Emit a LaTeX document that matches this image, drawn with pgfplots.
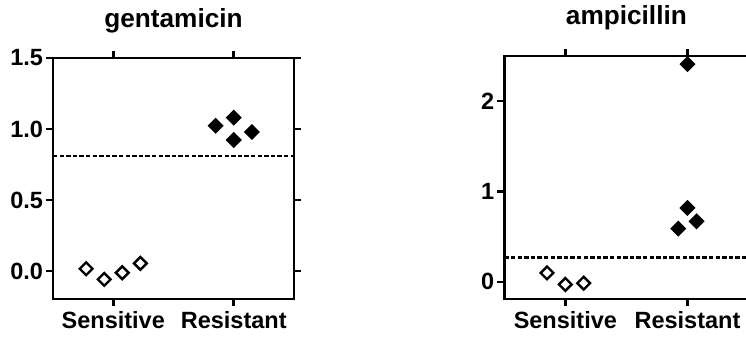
\documentclass[border=0pt]{standalone}
\usepackage{pgfplots}
\pgfplotsset{compat=1.18}
\usepackage{fontspec}
\setmainfont{Liberation Sans}

\begin{document}
\begin{tikzpicture}
\pgfplotsset{
  myaxis/.style={
   scale only axis,
   axis line style={line width=1.3pt},
   tick style={line width=1.3pt, black},
   major tick length=3.5pt,
   tick align=outside,
   xtick pos=both, ytick pos=both,
   xticklabel pos=bottom, yticklabel pos=left,
   xmin=0.5, xmax=2.5,
   xtick={1,2}, xticklabels={Sensitive,Resistant},
   ticklabel style={font=\bfseries\fontsize{11.75}{12}\selectfont},
   yticklabel style={xshift=2pt},
   xticklabel style={yshift=1pt},
   title style={font=\bfseries\fontsize{13.1}{14}\selectfont, at={(0.5,1)}, anchor=base, yshift=9.5pt},
  },
  openm/.style={only marks, mark=square, mark size=2.25pt, mark options={rotate=45, line width=1.2pt, fill=white, draw=black}},
  fillm/.style={only marks, mark=square*, mark size=2.45pt, mark options={rotate=45, line width=0.8pt, fill=black, draw=black}},
  cut/.style={black, line width=1.4pt, dash pattern=on 2.2pt off 1.1pt},
}
\begin{axis}[myaxis, at={(26.5pt,19pt)}, anchor=south west,
  width=120.5pt, height=120.5pt,
  ymin=-0.197, ymax=1.5, ytick={0,0.5,1,1.5}, yticklabels={0.0,0.5,1.0,1.5},
  title={gentamicin}]
\addplot[cut] coordinates {(0.5,0.81) (2.5,0.81)};
\addplot[openm] coordinates {(0.775,0.016) (0.925,-0.059) (1.075,-0.012) (1.225,0.054)};
\addplot[fillm] coordinates {(1.85,1.023) (2,1.08) (2,0.923) (2.15,0.979)};
\end{axis}
\begin{axis}[myaxis, at={(252.15pt,19pt)}, anchor=south west,
  width=122.1pt, height=121.5pt,
  ymin=-0.19, ymax=2.5, ytick={0,1,2}, yticklabels={0,1,2},
  title={ampicillin}]
\addplot[cut] coordinates {(0.5,0.265) (2.5,0.265)};
\addplot[openm] coordinates {(0.85,0.099) (1,-0.029) (1.15,-0.015)};
\addplot[fillm] coordinates {(2,2.41) (2,0.818) (1.925,0.589) (2.075,0.67)};
\end{axis}
\pgfresetboundingbox
\path[use as bounding box] (0,0) rectangle (373pt,168.5pt);
\end{tikzpicture}
\end{document}
